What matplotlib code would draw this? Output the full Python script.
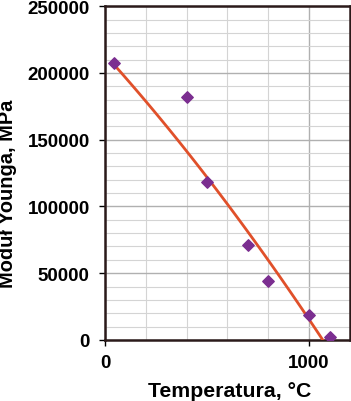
import matplotlib.pyplot as plt
import numpy as np
from matplotlib.ticker import MultipleLocator

# Young's modulus vs temperature
temp = [45, 400, 500, 700, 800, 1000, 1100]
modulus = [207500, 182000, 118500, 71300, 44400, 18900, 2200]

# trend line (degree 2 fit through these)
trend_t = [41, 228, 469, 692, 1066]
trend_e = [207300, 172900, 128000, 83100, 0]

plt.rcParams['font.family'] = ['Liberation Sans', 'DejaVu Sans']
plt.rcParams['font.weight'] = 'bold'

fig = plt.figure(figsize=(3.51, 4.02), dpi=100)
ax = fig.add_axes([0.299, 0.152, 0.698, 0.830])

coef = np.polyfit(trend_t, trend_e, 2)
tt = np.linspace(trend_t[0], trend_t[-1], 100)
ax.plot(tt, np.polyval(coef, tt), color='#e0502a', lw=2.0, zorder=3)

ax.scatter(temp, modulus, marker='D', s=34, color='#7b2e90', zorder=4)

ax.set_xlim(0, 1200)
ax.set_ylim(0, 250000)
ax.xaxis.set_major_locator(MultipleLocator(1000))
ax.xaxis.set_minor_locator(MultipleLocator(200))
ax.yaxis.set_major_locator(MultipleLocator(50000))
ax.yaxis.set_minor_locator(MultipleLocator(10000))

ax.grid(which='minor', color='#d4d4d4', lw=0.8)
ax.grid(which='major', color='#b0b0b0', lw=1.0)
ax.set_axisbelow(True)

ax.tick_params(which='minor', length=0)
ax.tick_params(axis='y', which='major', length=4, width=1, direction='out', labelsize=13.5, pad=7)
ax.tick_params(axis='x', which='major', length=4, width=1, direction='out', labelsize=13.5, pad=6)
for lab in ax.get_xticklabels() + ax.get_yticklabels():
    lab.set_fontweight('bold')

for s in ax.spines.values():
    s.set_color('#2b1a1a')
    s.set_linewidth(1.8)

# axis titles placed where the reference has them
fig.text(230 / 351, 1 - 392 / 402, 'Temperatura, °C', fontsize=15.3, fontweight='bold',
         ha='center', va='center')
fig.text(8 / 351, 1 - 194 / 402, 'Moduł Younga, MPa', fontsize=14.4, fontweight='bold',
         ha='center', va='center', rotation=90)

fig.savefig('out.png', dpi=100)
